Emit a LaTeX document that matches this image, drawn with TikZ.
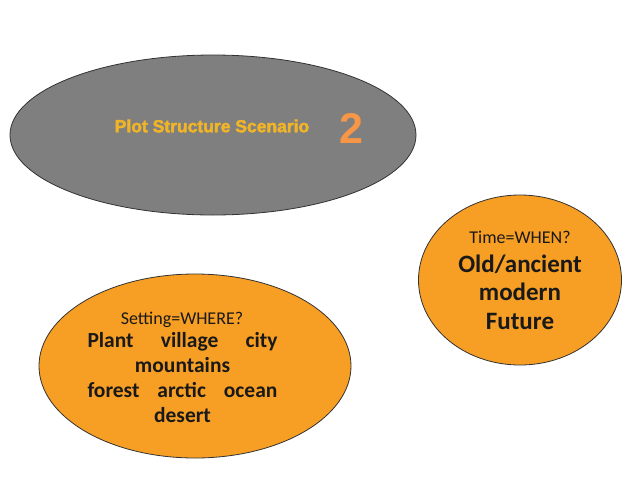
\documentclass[tikz,border=0pt]{standalone}
\usepackage{fontspec}
\setmainfont{Carlito}
\newfontfamily\arialfont{Liberation Sans}
\newfontfamily\arialheavy[FakeBold=2.5]{Liberation Sans Bold}
\usetikzlibrary{shapes.geometric}
\definecolor{ovalgray}{RGB}{127,127,127}
\definecolor{ovalorange}{RGB}{247,158,36}
\definecolor{titleyellow}{RGB}{240,180,40}
\definecolor{numorange}{RGB}{247,150,70}
\tikzset{
  oval/.style={ellipse, draw=black!80, line width=0.8pt, inner sep=0pt},
  bodytext/.style={align=center, text=black!90, font=\bfseries},
}
\begin{document}
\begin{tikzpicture}[x=1pt,y=-1pt]
\useasboundingbox (0,0) rectangle (640,480);
\fill[white] (0,0) rectangle (640,480);
\node[oval, fill=ovalgray, minimum width=406pt, minimum height=160pt] (plot) at (213,135) {};
\node[anchor=center, text=titleyellow, font=\arialheavy\fontsize{17.5}{20}\selectfont] (title) at (212,126) {Plot Structure Scenario};
\node[text=numorange, font=\arialfont\bfseries\fontsize{43}{45}\selectfont] (num) at (351,128) {2};
\node[oval, fill=ovalorange, minimum width=203pt, minimum height=170pt] (time) at (520,280) {};
\node[align=center, text=black!90, font=\fontsize{18}{20}\selectfont] (timeq) at (520,237) {Time=WHEN?};
\node[bodytext, font=\bfseries\fontsize{25}{28.5}\selectfont] (timeans) at (520,292) {Old/ancient\\modern\\Future};
\node[oval, fill=ovalorange, minimum width=312pt, minimum height=184pt] (setting) at (195,366) {};
\node[align=center, text=black!90, font=\fontsize{18}{20}\selectfont] (settq) at (182,320) {Setting=WHERE?};
\node[text=black!90, font=\bfseries\fontsize{21.5}{25}\selectfont, text width=190pt, align=center] (settans) at (182.5,378) {Plant\hfill village\hfill city\\mountains\\forest\hfill arctic\hfill ocean\\desert};
\end{tikzpicture}
\end{document}
